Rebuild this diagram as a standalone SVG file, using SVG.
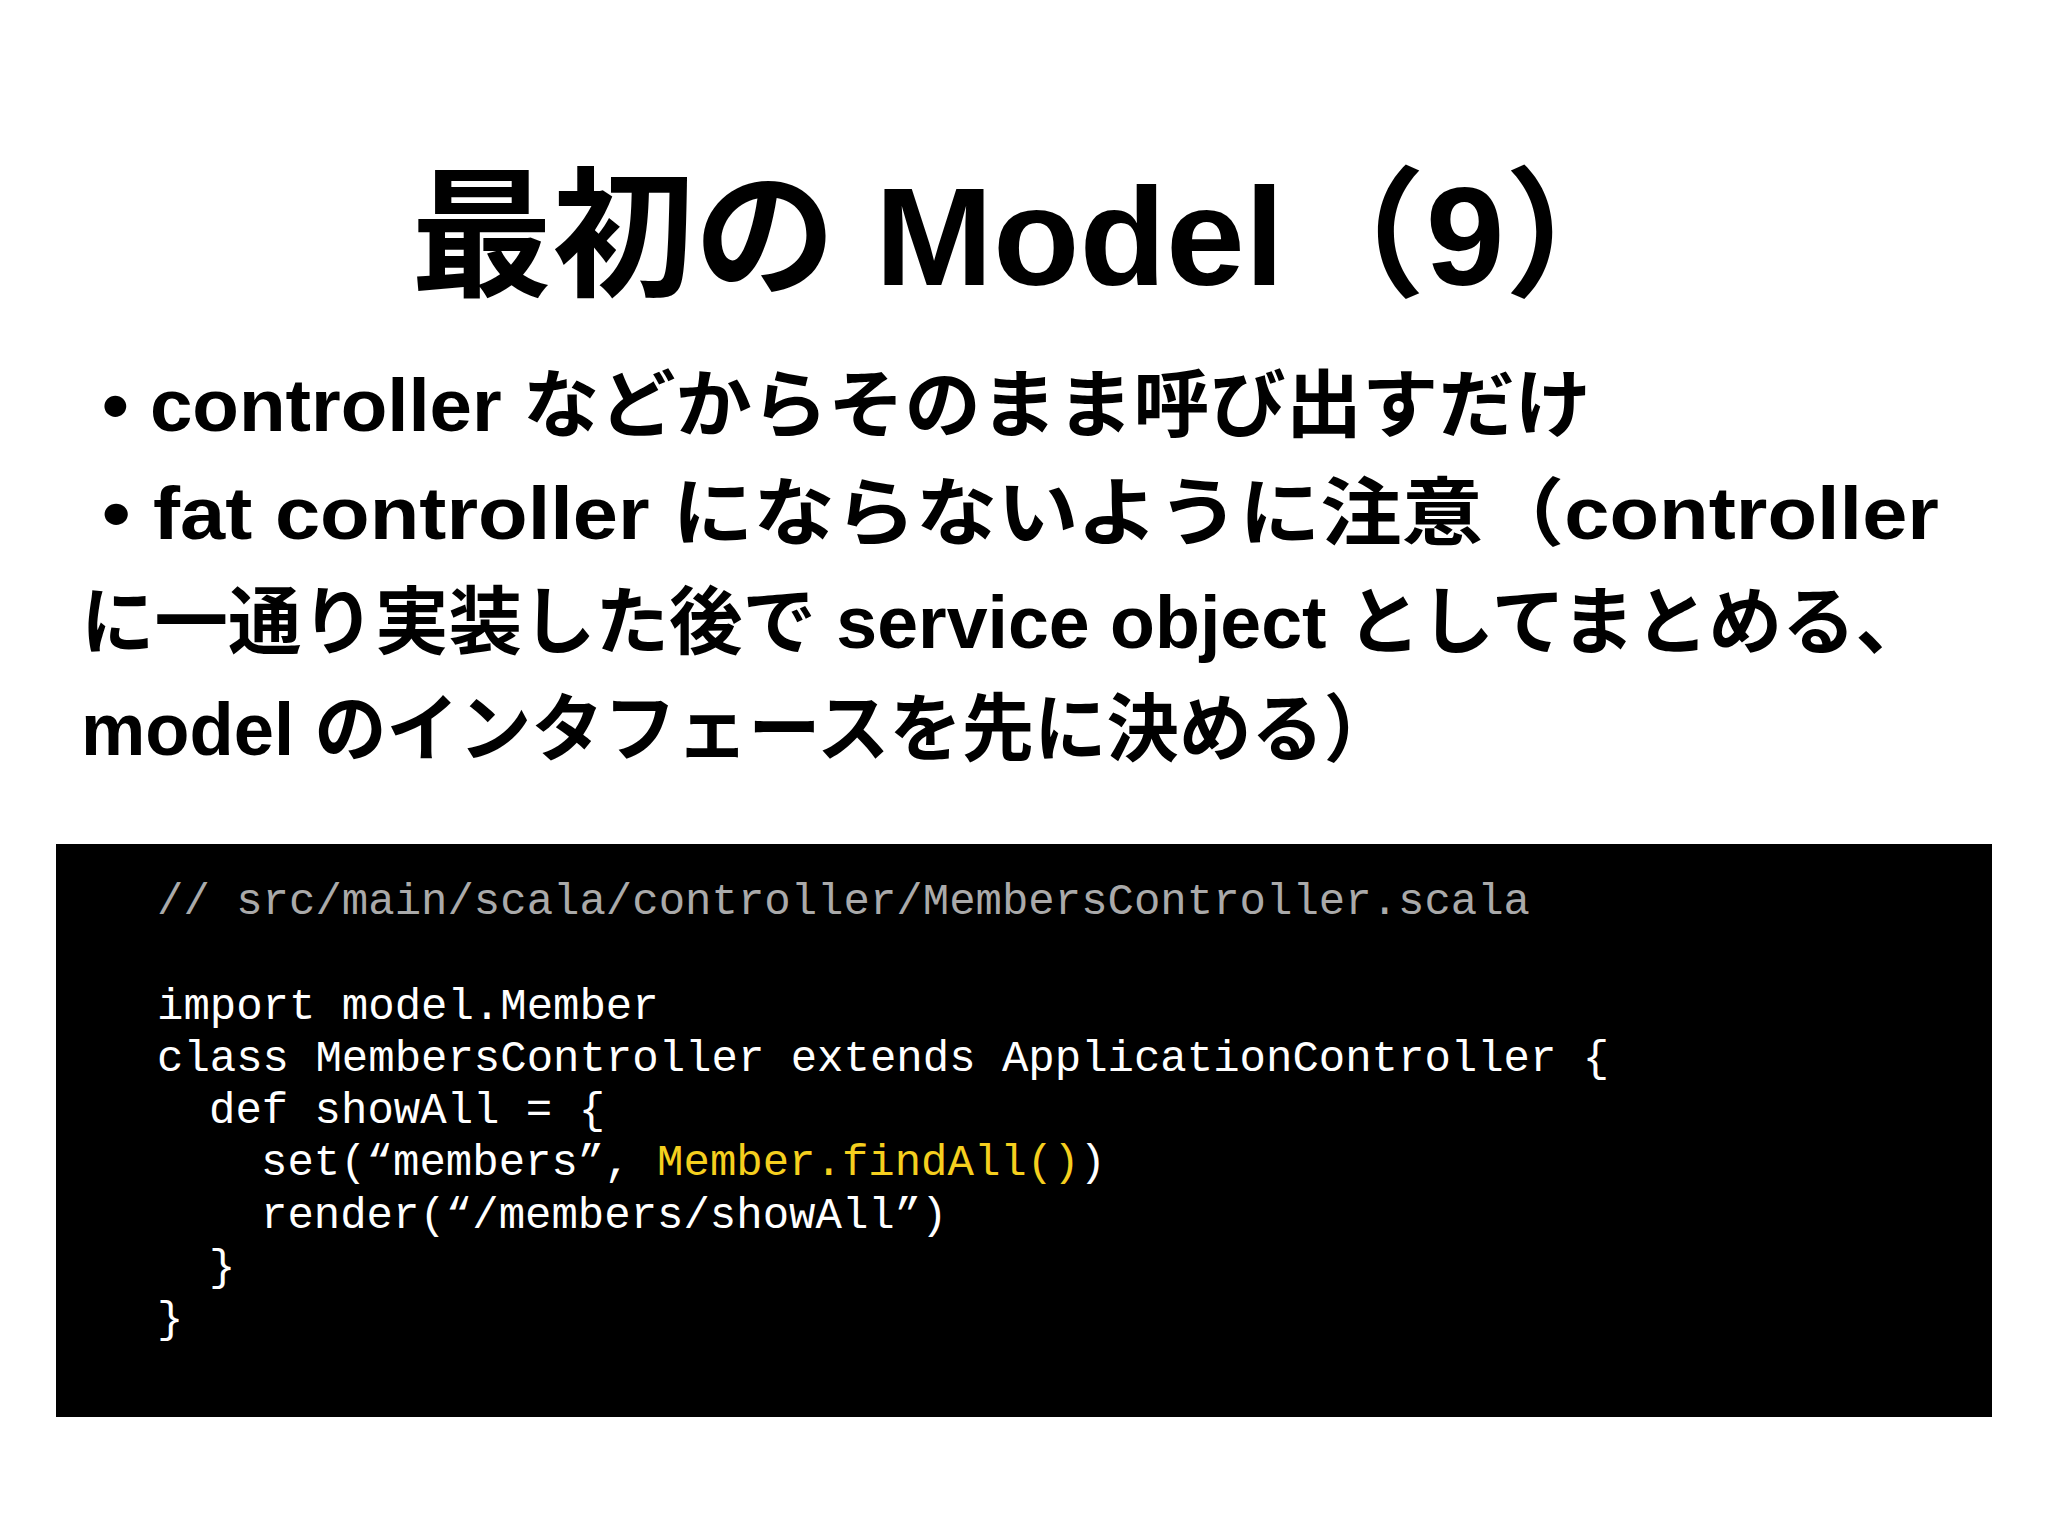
<svg xmlns="http://www.w3.org/2000/svg" width="2048" height="1536" viewBox="0 0 2048 1536">
<style>
.t{font-family:"Liberation Sans","Noto Sans CJK JP",sans-serif;font-weight:bold;fill:#000}
.c{font-family:"Liberation Mono","DejaVu Sans Mono",monospace;font-size:44px;fill:#fff}
</style>
<rect width="2048" height="1536" fill="#fff"/>
<g id="title"><text class="t" x="411" y="285" font-size="140" textLength="1235" lengthAdjust="spacingAndGlyphs">最初の Model（9）</text></g>
<g id="bullets">
<text class="t" x="102" y="431" font-size="74" textLength="1489" lengthAdjust="spacingAndGlyphs">• controller などからそのまま呼び出すだけ</text>
<text class="t" x="102" y="539" font-size="74" textLength="1837" lengthAdjust="spacingAndGlyphs">• fat controller にならないように注意（controller</text>
<text class="t" x="81" y="648" font-size="74" textLength="1848" lengthAdjust="spacingAndGlyphs">に一通り実装した後で service object としてまとめる、</text>
<text class="t" x="81" y="755" font-size="74" textLength="1315" lengthAdjust="spacingAndGlyphs">model のインタフェースを先に決める）</text>
</g>
<g id="code">
<rect x="56" y="844" width="1936" height="573" fill="#000"/>
<text class="c" x="157" y="914" style="fill:#aaa">// src/main/scala/controller/MembersController.scala</text>
<text class="c" x="157" y="1019">import model.Member</text>
<text class="c" x="157" y="1071">class MembersController extends ApplicationController {</text>
<text class="c" x="209" y="1123">def showAll = {</text>
<text class="c" x="261" y="1175">set(“members”, <tspan style="fill:#f5cf1e">Member.findAll()</tspan>)</text>
<text class="c" x="261" y="1228">render(“/members/showAll”)</text>
<text class="c" x="209" y="1280">}</text>
<text class="c" x="157" y="1332">}</text>
</g>
</svg>
